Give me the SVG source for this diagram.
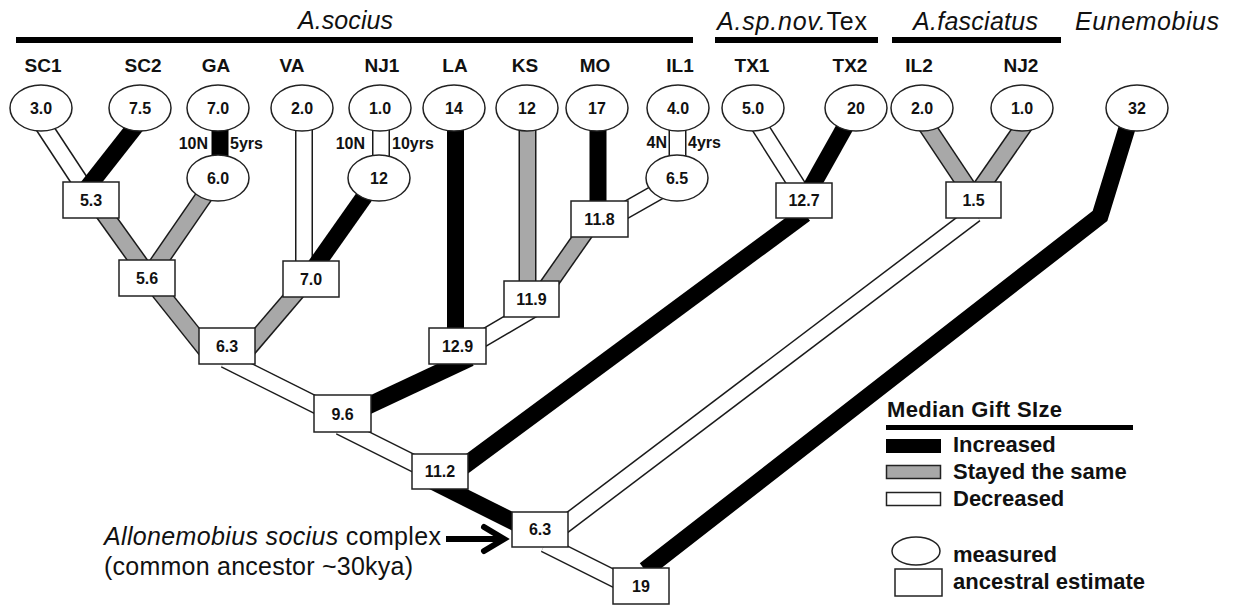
<svg xmlns="http://www.w3.org/2000/svg" xmlns:xlink="http://www.w3.org/1999/xlink" width="1241" height="606" viewBox="0 0 1241 606">
<style>
text{font-family:"Liberation Sans",Arial,sans-serif;fill:#111}
.hd{font-size:25px;font-style:italic}
.pop{font-size:19px;font-weight:bold;text-anchor:middle}
.val{font-size:16px;font-weight:bold;text-anchor:middle}
.sm{font-size:16px;font-weight:bold}
.lg{font-size:22px;font-weight:bold}
.cap{font-size:25px}
.bar{fill:#000}
.o{stroke:#1a1a1a;stroke-width:18;fill:none}
.inc{stroke:#000;stroke-width:17;fill:none;stroke-linejoin:miter}
.same{stroke:#a8a8a8;stroke-width:15;fill:none}
.dec{stroke:#fff;stroke-width:15;fill:none}
.m{fill:#fff;stroke:#222;stroke-width:1.5}
.a{fill:#fff;stroke:#222;stroke-width:1.5}
</style>
<defs>
<path id="e1" d="M33 110L83 186"/>
<path id="e5" d="M100 208L143 268"/>
<path id="e4" d="M207 192L156 266"/>
<path id="e6" d="M304 125L304 270"/>
<path id="e7" d="M381 125L381 162"/>
<path id="e10" d="M527.5 125L527.5 290"/>
<path id="e12" d="M677.5 125L677.5 162"/>
<path id="e13" d="M670 185L610 219"/>
<path id="e14" d="M588 228L546 288"/>
<path id="e15" d="M545 302L470 346"/>
<path id="e18" d="M155 286L210 355"/>
<path id="e19" d="M300 288L247 350"/>
<path id="e20" d="M225 359.5L342 418"/>
<path id="e21" d="M340 426.5L440 476.5"/>
<path id="e23" d="M753 116L800 190"/>
<path id="e26" d="M920 116L970 191"/>
<path id="e27" d="M1028 120L980 189"/>
<path id="e28" d="M975 214L560 528"/>
<path id="e29" d="M545 544L640 591.5"/>
</defs>

<g id="headers">
<rect class="bar" x="16" y="37" width="677" height="6"/>
<text class="hd" x="298" y="29" textLength="95">A.socius</text>
<rect class="bar" x="715" y="37" width="163" height="6"/>
<text class="hd" x="717" y="30" textLength="150" style="font-style:normal"><tspan font-style="italic">A.sp.nov.</tspan>Tex</text>
<rect class="bar" x="892" y="37" width="169" height="6"/>
<text class="hd" x="913" y="30" textLength="125">A.fasciatus</text>
<text class="hd" x="1075" y="30" textLength="144">Eunemobius</text>
</g>

<g id="population-labels">
<text class="pop" x="43" y="72">SC1</text>
<text class="pop" x="143" y="72">SC2</text>
<text class="pop" x="216" y="72">GA</text>
<text class="pop" x="292" y="72">VA</text>
<text class="pop" x="382" y="72">NJ1</text>
<text class="pop" x="455" y="72">LA</text>
<text class="pop" x="525" y="72">KS</text>
<text class="pop" x="595" y="72">MO</text>
<text class="pop" x="680" y="72">IL1</text>
<text class="pop" x="752" y="72">TX1</text>
<text class="pop" x="850" y="72">TX2</text>
<text class="pop" x="919" y="72">IL2</text>
<text class="pop" x="1021" y="72">NJ2</text>
</g>

<g id="connectors">
<use href="#e1" class="o"/><use href="#e1" class="dec"/>
<path class="inc" d="M142 118L87 188"/>
<path class="inc" d="M220 120L220 166"/>
<use href="#e5" class="o"/><use href="#e5" class="same"/>
<use href="#e4" class="o"/><use href="#e4" class="same"/>
<use href="#e6" class="o"/><use href="#e6" class="dec"/>
<use href="#e7" class="o"/><use href="#e7" class="dec"/>
<path class="inc" d="M369 190L314 268"/>
<path class="inc" d="M455.5 125L455.5 336"/>
<use href="#e10" class="o"/><use href="#e10" class="same"/>
<path class="inc" d="M598 125L598 210"/>
<use href="#e12" class="o"/><use href="#e12" class="dec"/>
<use href="#e13" class="o"/><use href="#e13" class="dec"/>
<use href="#e14" class="o"/><use href="#e14" class="same"/>
<use href="#e15" class="o"/><use href="#e15" class="dec"/>
<path class="inc" d="M470 358L342 418"/>
<use href="#e18" class="o"/><use href="#e18" class="same"/>
<use href="#e19" class="o"/><use href="#e19" class="same"/>
<use href="#e20" class="o"/><use href="#e20" class="dec"/>
<use href="#e21" class="o"/><use href="#e21" class="dec"/>
<path class="inc" d="M430 480L530 530"/>
<use href="#e23" class="o"/><use href="#e23" class="dec"/>
<path class="inc" d="M850 118L804 200"/>
<path class="inc" d="M805 214L460 469"/>
<use href="#e26" class="o"/><use href="#e26" class="same"/>
<use href="#e27" class="o"/><use href="#e27" class="same"/>
<use href="#e28" class="o"/><use href="#e28" class="dec"/>
<use href="#e29" class="o"/><use href="#e29" class="dec"/>
<path class="inc" d="M1131 115L1100 216L645 570"/>
<path d="M446 539L500 539" stroke="#000" stroke-width="6" fill="none"/>
<path d="M484 527L504 539L484 551" stroke="#000" stroke-width="6" fill="none" stroke-linecap="round"/>
</g>

<g id="branch-labels">
<text class="sm" x="208" y="149" text-anchor="end">10N</text>
<text class="sm" x="230" y="149">5yrs</text>
<text class="sm" x="365" y="149" text-anchor="end">10N</text>
<text class="sm" x="392" y="149">10yrs</text>
<text class="sm" x="667" y="148" text-anchor="end">4N</text>
<text class="sm" x="688" y="148">4yrs</text>
</g>

<g id="n-SC1"><ellipse class="m" cx="41" cy="108" rx="31" ry="23"/><text class="val" x="41" y="114">3.0</text></g>
<g id="n-SC2"><ellipse class="m" cx="140" cy="108" rx="31" ry="23"/><text class="val" x="140" y="114">7.5</text></g>
<g id="n-GA"><ellipse class="m" cx="218" cy="108" rx="31" ry="23"/><text class="val" x="218" y="114">7.0</text></g>
<g id="n-GA2"><ellipse class="m" cx="218" cy="178" rx="31" ry="23"/><text class="val" x="218" y="184">6.0</text></g>
<g id="n-VA"><ellipse class="m" cx="302" cy="108" rx="31" ry="23"/><text class="val" x="302" y="114">2.0</text></g>
<g id="n-NJ1"><ellipse class="m" cx="380" cy="108" rx="31" ry="23"/><text class="val" x="380" y="114">1.0</text></g>
<g id="n-NJ1b"><ellipse class="m" cx="379" cy="178" rx="31" ry="23"/><text class="val" x="379" y="184">12</text></g>
<g id="n-LA"><ellipse class="m" cx="454" cy="108" rx="31" ry="23"/><text class="val" x="454" y="114">14</text></g>
<g id="n-KS"><ellipse class="m" cx="527" cy="108" rx="31" ry="23"/><text class="val" x="527" y="114">12</text></g>
<g id="n-MO"><ellipse class="m" cx="597" cy="108" rx="31" ry="23"/><text class="val" x="597" y="114">17</text></g>
<g id="n-IL1"><ellipse class="m" cx="678" cy="108" rx="31" ry="23"/><text class="val" x="678" y="114">4.0</text></g>
<g id="n-IL1b"><ellipse class="m" cx="677" cy="178" rx="31" ry="23"/><text class="val" x="677" y="184">6.5</text></g>
<g id="n-TX1"><ellipse class="m" cx="753" cy="108" rx="31" ry="23"/><text class="val" x="753" y="114">5.0</text></g>
<g id="n-TX2"><ellipse class="m" cx="856" cy="108" rx="31" ry="23"/><text class="val" x="856" y="114">20</text></g>
<g id="n-IL2"><ellipse class="m" cx="922" cy="108" rx="31" ry="23"/><text class="val" x="922" y="114">2.0</text></g>
<g id="n-NJ2"><ellipse class="m" cx="1022" cy="108" rx="31" ry="23"/><text class="val" x="1022" y="114">1.0</text></g>
<g id="n-Eun"><ellipse class="m" cx="1137" cy="108" rx="31" ry="23"/><text class="val" x="1137" y="114">32</text></g>

<g id="a-53"><rect class="a" x="63" y="182" width="56" height="36"/><text class="val" x="91" y="206">5.3</text></g>
<g id="a-56"><rect class="a" x="119" y="260" width="56" height="36"/><text class="val" x="147" y="284">5.6</text></g>
<g id="a-70"><rect class="a" x="283" y="261" width="56" height="36"/><text class="val" x="311" y="285">7.0</text></g>
<g id="a-63a"><rect class="a" x="199" y="328" width="56" height="36"/><text class="val" x="227" y="352">6.3</text></g>
<g id="a-96"><rect class="a" x="314" y="395" width="57" height="37"/><text class="val" x="342.5" y="420">9.6</text></g>
<g id="a-112"><rect class="a" x="412" y="454" width="56" height="35"/><text class="val" x="440" y="477">11.2</text></g>
<g id="a-63root"><rect class="a" x="512" y="512" width="56" height="35"/><text class="val" x="540" y="535">6.3</text></g>
<g id="a-19"><rect class="a" x="613" y="568" width="56" height="36"/><text class="val" x="641" y="592">19</text></g>
<g id="a-129"><rect class="a" x="429" y="328" width="57" height="36"/><text class="val" x="457.5" y="352">12.9</text></g>
<g id="a-119"><rect class="a" x="504" y="281" width="55" height="36"/><text class="val" x="531.5" y="305">11.9</text></g>
<g id="a-118"><rect class="a" x="571" y="201" width="57" height="36"/><text class="val" x="599.5" y="225">11.8</text></g>
<g id="a-127"><rect class="a" x="776" y="183" width="56" height="35"/><text class="val" x="804" y="206">12.7</text></g>
<g id="a-15"><rect class="a" x="946" y="182" width="55" height="36"/><text class="val" x="973.5" y="206">1.5</text></g>

<g id="caption">
<text class="cap" x="104" y="545" textLength="337"><tspan font-style="italic">Allonemobius socius</tspan> complex</text>
<text class="cap" x="104" y="575" textLength="309">(common ancestor ~30kya)</text>
</g>

<g id="legend">
<text class="lg" x="887" y="417" textLength="175">Median Gift SIze</text>
<rect class="bar" x="886" y="425" width="247" height="5"/>
<rect x="886" y="439" width="55" height="14" fill="#000"/>
<text class="lg" x="953" y="452">Increased</text>
<rect x="886.5" y="465.5" width="54" height="13" fill="#a8a8a8" stroke="#222" stroke-width="1.5"/>
<text class="lg" x="953" y="479">Stayed the same</text>
<rect x="886.5" y="492.5" width="54" height="13" fill="#fff" stroke="#222" stroke-width="1.5"/>
<text class="lg" x="953" y="506">Decreased</text>
<ellipse class="m" cx="916" cy="551" rx="24" ry="14"/>
<text class="lg" x="953" y="562">measured</text>
<rect class="a" x="895" y="569" width="47" height="27"/>
<text class="lg" x="953" y="589">ancestral estimate</text>
</g>
</svg>
